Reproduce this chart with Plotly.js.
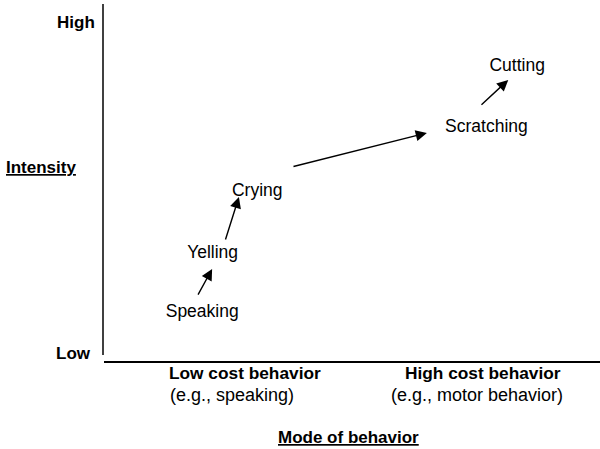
<!DOCTYPE html>
<html>
<head>
<meta charset="utf-8">
<script src="https://cdn.plot.ly/plotly-3.0.1.min.js"></script>
<style>html,body{margin:0;padding:0;background:#fff;}#chart{width:600px;height:449px;}</style>
</head>
<body>
<div id="chart"></div>
<script>
// Behaviours (x = mode of behavior, 0-100 ; y = intensity, 0-100)
const behaviors = ["Speaking", "Yelling", "Crying", "Scratching", "Cutting"];
const modeValues = [19.8, 21.9, 30.9, 77.1, 83.3];
const intensityValues = [13.9, 30.3, 47.5, 65.4, 82.6];

// Escalation arrows (from -> to)
const arrowFromX = [18.8, 24.4, 37.9, 75.8];
const arrowFromY = [18.4, 33.8, 54.5, 71.5];
const arrowToX = [21.8, 27.2, 65.1, 81.5];
const arrowToY = [26.0, 46.1, 64.0, 78.8];

// Axis annotations
const yTickLabels = ["High", "Low"];
const xCategoryLabels = ["Low cost behavior", "High cost behavior"];
const xCategoryExamples = ["(e.g., speaking)", "(e.g., motor behavior)"];
const xAxisTitle = "Mode of behavior";
const yAxisTitle = "Intensity";

const FONT = "Liberation Sans, Arial, sans-serif";
const L = 104, T = 4, W = 496, H = 358;
const px = v => (v - L) / W;
const py = v => (T + H - v) / H;

const trace = {
  type: "scatter",
  mode: "text",
  x: modeValues,
  y: intensityValues,
  text: behaviors,
  textposition: "middle center",
  textfont: {family: FONT, size: 17.5, color: "#000"},
  hoverinfo: "none",
  showlegend: false
};

const annotations = [];
for (let i = 0; i < arrowFromX.length; i++) {
  annotations.push({
    x: arrowToX[i], y: arrowToY[i], xref: "x", yref: "y",
    ax: arrowFromX[i], ay: arrowFromY[i], axref: "x", ayref: "y",
    text: "", showarrow: true, arrowhead: 2, arrowsize: 1.6, arrowwidth: 1.4,
    arrowcolor: "#000", standoff: 0, startstandoff: 0
  });
}
const boldFont = {family: FONT, size: 17, color: "#000", weight: "bold"};
const regFont = {family: FONT, size: 18, color: "#000"};
annotations.push({xref: "paper", yref: "paper", x: px(97), y: py(22.5), text: "<b>" + yTickLabels[0] + "</b>",
  showarrow: false, xanchor: "right", yanchor: "middle", font: boldFont});
annotations.push({xref: "paper", yref: "paper", x: px(93), y: py(353), text: "<b>" + yTickLabels[1] + "</b>",
  showarrow: false, xanchor: "right", yanchor: "middle", font: boldFont});
annotations.push({xref: "paper", yref: "paper", x: px(40.5), y: py(167.5), text: "<b><u>" + yAxisTitle + "</u></b>",
  showarrow: false, xanchor: "center", yanchor: "middle", font: boldFont});
const catX = [244.5, 482.5], exX = [231.5, 476.5];
for (let i = 0; i < 2; i++) {
  annotations.push({xref: "paper", yref: "paper", x: px(catX[i]), y: py(373), text: "<b>" + xCategoryLabels[i] + "</b>",
    showarrow: false, xanchor: "center", yanchor: "middle", font: {...boldFont, size: 17.3}});
  annotations.push({xref: "paper", yref: "paper", x: px(exX[i]), y: py(395), text: xCategoryExamples[i],
    showarrow: false, xanchor: "center", yanchor: "middle", font: regFont});
}
annotations.push({xref: "paper", yref: "paper", x: px(348.5), y: py(437), text: "<b><u>" + xAxisTitle + "</u></b>",
  showarrow: false, xanchor: "center", yanchor: "middle", font: {...boldFont, size: 17}});

const layout = {
  width: 600, height: 449,
  margin: {l: L, r: 0, t: T, b: 449 - T - H, pad: 0},
  paper_bgcolor: "#fff", plot_bgcolor: "#fff",
  xaxis: {range: [0, 100], visible: false, fixedrange: true},
  yaxis: {range: [0, 100], visible: false, fixedrange: true},
  shapes: [
    {type: "line", xref: "paper", yref: "paper", x0: px(104), x1: 1, y0: py(362), y1: py(362), line: {color: "#000", width: 2}},
    {type: "line", xref: "paper", yref: "paper", x0: px(103), x1: px(103), y0: py(355), y1: py(4), line: {color: "#000", width: 1.5}}
  ],
  annotations: annotations
};

Plotly.newPlot("chart", [trace], layout, {staticPlot: true, displayModeBar: false});
</script>
</body>
</html>
